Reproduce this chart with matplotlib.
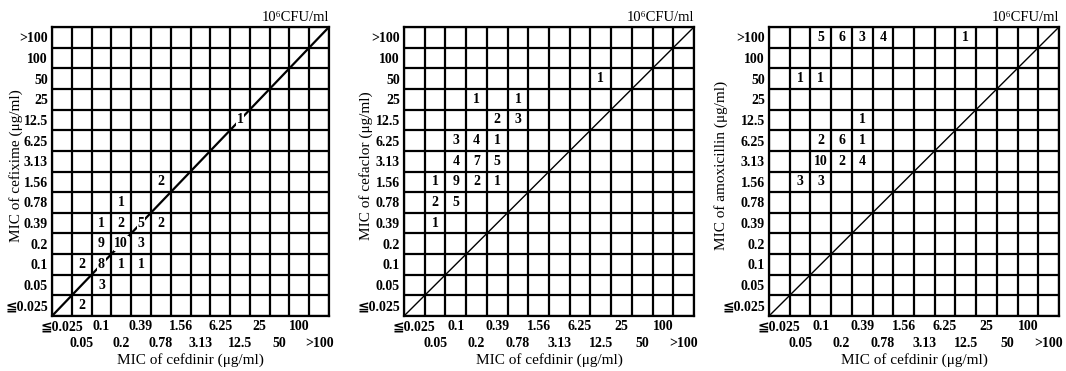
import matplotlib
matplotlib.use("Agg")
import matplotlib.pyplot as plt

plt.rcParams['font.family'] = ['Liberation Serif', 'DejaVu Sans',
                               'Noto Sans CJK JP']

# MIC dilution levels (µg/ml), shared by both axes of every panel
mic_levels = ["≦0.025", "0.05", "0.1", "0.2", "0.39", "0.78", "1.56",
              "3.13", "6.25", "12.5", "25", "50", "100", ">100"]

# Cefixime vs cefdinir: strain counts per MIC pair
cefixime_cefdinir = ["0.78", "12.5", "0.2", "0.1", "0.2", "0.39", "0.78",
                     "0.1", "0.2", "0.39", "0.05", "0.1", "0.2", "0.39",
                     "0.1", "0.05"]
cefixime_mic = ["1.56", "12.5", "0.78", "0.39", "0.39", "0.39", "0.39",
                "0.2", "0.2", "0.2", "0.1", "0.1", "0.1", "0.1",
                "0.05", "≦0.025"]
cefixime_n = [2, 1, 1, 1, 2, 5, 2, 9, 10, 3, 2, 8, 1, 1, 3, 2]

# Cefaclor vs cefdinir
cefaclor_cefdinir = ["12.5", "0.2", "0.78", "0.39", "0.78", "0.1", "0.2",
                     "0.39", "0.1", "0.2", "0.39", "0.05", "0.1", "0.2",
                     "0.39", "0.05", "0.1", "0.05"]
cefaclor_mic = ["50", "25", "25", "12.5", "12.5", "6.25", "6.25", "6.25",
                "3.13", "3.13", "3.13", "1.56", "1.56", "1.56", "1.56",
                "0.78", "0.78", "0.39"]
cefaclor_n = [1, 1, 1, 2, 3, 3, 4, 1, 4, 7, 5, 1, 9, 2, 1, 2, 5, 1]

# Amoxicillin vs cefdinir
amoxicillin_cefdinir = ["0.1", "0.2", "0.39", "0.78", "12.5", "0.05", "0.1",
                        "0.39", "0.1", "0.2", "0.39", "0.1", "0.2", "0.39",
                        "0.05", "0.1"]
amoxicillin_mic = [">100", ">100", ">100", ">100", ">100", "50", "50",
                   "12.5", "6.25", "6.25", "6.25", "3.13", "3.13", "3.13",
                   "1.56", "1.56"]
amoxicillin_n = [5, 6, 3, 4, 1, 1, 1, 1, 2, 6, 1, 10, 2, 4, 3, 3]

panels = [
    ("MIC of cefixime (μg/ml)", cefixime_cefdinir, cefixime_mic, cefixime_n,
     [52, 329], 1.6, -0.105),
    ("MIC of cefaclor (μg/ml)", cefaclor_cefdinir, cefaclor_mic, cefaclor_n,
     [404, 694], 1.0, -0.107),
    ("MIC of amoxicillin (μg/ml)", amoxicillin_cefdinir, amoxicillin_mic,
     amoxicillin_n, [769, 1059], 1.0, -0.141),
]

W, H = 1066, 371
fig = plt.figure(figsize=(W / 100, H / 100), dpi=100)

top_px, bottom_px = 27, 316
n_lv = len(mic_levels)
pos = {lv: i for i, lv in enumerate(mic_levels)}

for ylabel, xs, ys, ns, (lpx, rpx), diag_lw, ylab_x in panels:
    ax = fig.add_axes([lpx / W, 1 - bottom_px / H, (rpx - lpx) / W,
                       (bottom_px - top_px) / H])
    ax.set_xlim(0, n_lv)
    ax.set_ylim(0, n_lv)

    # cell borders on the major ticks
    ax.set_xticks(range(n_lv + 1))
    ax.set_yticks(range(n_lv + 1))
    ax.set_xticklabels([])
    ax.set_yticklabels([])
    ax.grid(True, which='major', color='black', linewidth=1.6, zorder=4)
    ax.set_axisbelow(False)
    ax.tick_params(which='major', length=0)

    # category labels centred in each cell, x labels staggered in two rows
    centres = [i + 0.5 for i in range(n_lv)]
    ax.set_xticks(centres, minor=True)
    ax.set_yticks(centres, minor=True)
    ax.set_xticklabels(mic_levels, minor=True, fontsize=10,
                       fontweight='bold')
    ax.set_yticklabels(mic_levels, minor=True, fontsize=10,
                       fontweight='bold')
    ax.tick_params(which='minor', length=0, pad=3)
    for i, tick in enumerate(ax.xaxis.get_minor_ticks()):
        if i % 2:
            tick.set_pad(15)

    for sp in ax.spines.values():
        sp.set_linewidth(1.6)
        sp.set_zorder(5)

    # line of equal MIC
    ax.axline((0, 0), slope=1, color='black', linewidth=diag_lw, zorder=2)

    for x, y, n in zip(xs, ys, ns):
        ax.text(pos[x] + 0.5, pos[y] + 0.5, str(n), ha='center',
                va='center', fontsize=10, fontweight='bold', zorder=3,
                bbox=dict(facecolor='white', edgecolor='none', pad=0.6))

    ax.set_ylabel(ylabel, fontsize=11)
    ax.yaxis.set_label_coords(ylab_x, 0.52)
    ax.set_xlabel("MIC of cefdinir (μg/ml)", fontsize=11)
    ax.xaxis.set_label_coords(0.5, -0.128)
    ax.set_title("10⁶CFU/ml", loc='right', fontsize=10.5, pad=4)

fig.savefig("out.png", dpi=100)
